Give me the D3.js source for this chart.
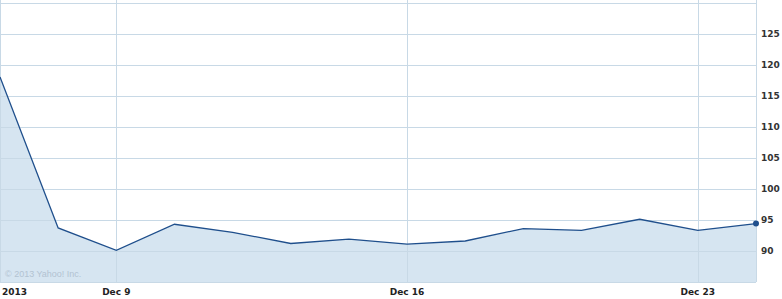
<!DOCTYPE html>
<html><head><meta charset="utf-8">
<script src="https://cdn.jsdelivr.net/npm/d3@7"></script>
<style>body{margin:0;background:#fff}svg{display:block}</style>
</head><body>
<script>
const dates = ["Dec 5","Dec 6","Dec 9","Dec 10","Dec 11","Dec 12","Dec 13","Dec 16","Dec 17","Dec 18","Dec 19","Dec 20","Dec 23","Dec 24"];
const prices = [118.0, 93.7, 90.1, 94.3, 93.0, 91.2, 91.9, 91.1, 91.6, 93.6, 93.3, 95.1, 93.3, 94.4];
const yTicks = [90, 95, 100, 105, 110, 115, 120, 125];
const xTickLabels = [{i:0,label:"2013"},{i:2,label:"Dec 9"},{i:7,label:"Dec 16"},{i:12,label:"Dec 23"}];
const gridLines = [130, 125, 120, 115, 110, 105, 100, 95, 90];

const W = 782, H = 299;
const L = 0, R = 756, T = 2.5, B = 282;
const svg = d3.select("body").append("svg").attr("width", W).attr("height", H);
const x = d3.scaleLinear().domain([0, dates.length - 1]).range([L, R]);
const y = d3.scaleLinear().domain([85, 130]).range([B, T]);

const grid = "#c8d9e6";
// area
svg.append("path").datum(prices)
  .attr("d", d3.area().x((d,i)=>x(i)).y0(B).y1(d=>y(d)))
  .attr("fill", "#d6e5f1");
// horizontal grid
svg.append("g").selectAll("line").data(gridLines).join("line")
  .attr("x1", L).attr("x2", R).attr("y1", d=>Math.round(y(d))+0.5).attr("y2", d=>Math.round(y(d))+0.5)
  .attr("stroke", grid).attr("stroke-width", 1);
// vertical grid
svg.append("g").selectAll("line").data(xTickLabels.filter(d=>d.i>0)).join("line")
  .attr("x1", d=>Math.round(x(d.i))+0.5).attr("x2", d=>Math.round(x(d.i))+0.5).attr("y1", 0).attr("y2", B)
  .attr("stroke", grid);
// right border & bottom
svg.append("line").attr("x1", R+0.5).attr("x2", R+0.5).attr("y1", 0).attr("y2", B).attr("stroke", grid);
svg.append("line").attr("x1", L).attr("x2", R).attr("y1", B+0.5).attr("y2", B+0.5).attr("stroke", grid);
svg.append("line").attr("x1", 0.5).attr("x2", 0.5).attr("y1", 0).attr("y2", B).attr("stroke", grid);

// copyright
svg.append("text").attr("x", 5).attr("y", 277).text("© 2013 Yahoo! Inc.")
  .attr("font-family", "Liberation Sans, Arial, sans-serif").attr("font-size", 9).attr("fill", "#b3c3d2");

// line
svg.append("path").datum(prices)
  .attr("d", d3.line().x((d,i)=>x(i)).y(d=>y(d)))
  .attr("fill", "none").attr("stroke", "#1f4f8c").attr("stroke-width", 1.3);
svg.append("circle").attr("cx", x(prices.length-1)).attr("cy", y(prices[prices.length-1])).attr("r", 3).attr("fill", "#1f4f8c");

// y labels
svg.append("g").selectAll("text").data(yTicks).join("text")
  .attr("x", 761).attr("y", d=>y(d)).attr("dy", "0.35em").text(d=>d)
  .attr("font-family", "DejaVu Sans, Verdana, sans-serif").attr("font-weight", "bold").attr("font-size", 9).attr("fill", "#333");
// x labels
svg.append("g").selectAll("text").data(xTickLabels).join("text")
  .attr("x", d=> d.i===0 ? 2 : x(d.i)).attr("y", 295)
  .attr("text-anchor", d=> d.i===0 ? "start" : "middle").text(d=>d.label)
  .attr("font-family", "DejaVu Sans, Verdana, sans-serif").attr("font-weight", "bold").attr("font-size", 9).attr("fill", "#222");
</script>
</body></html>
